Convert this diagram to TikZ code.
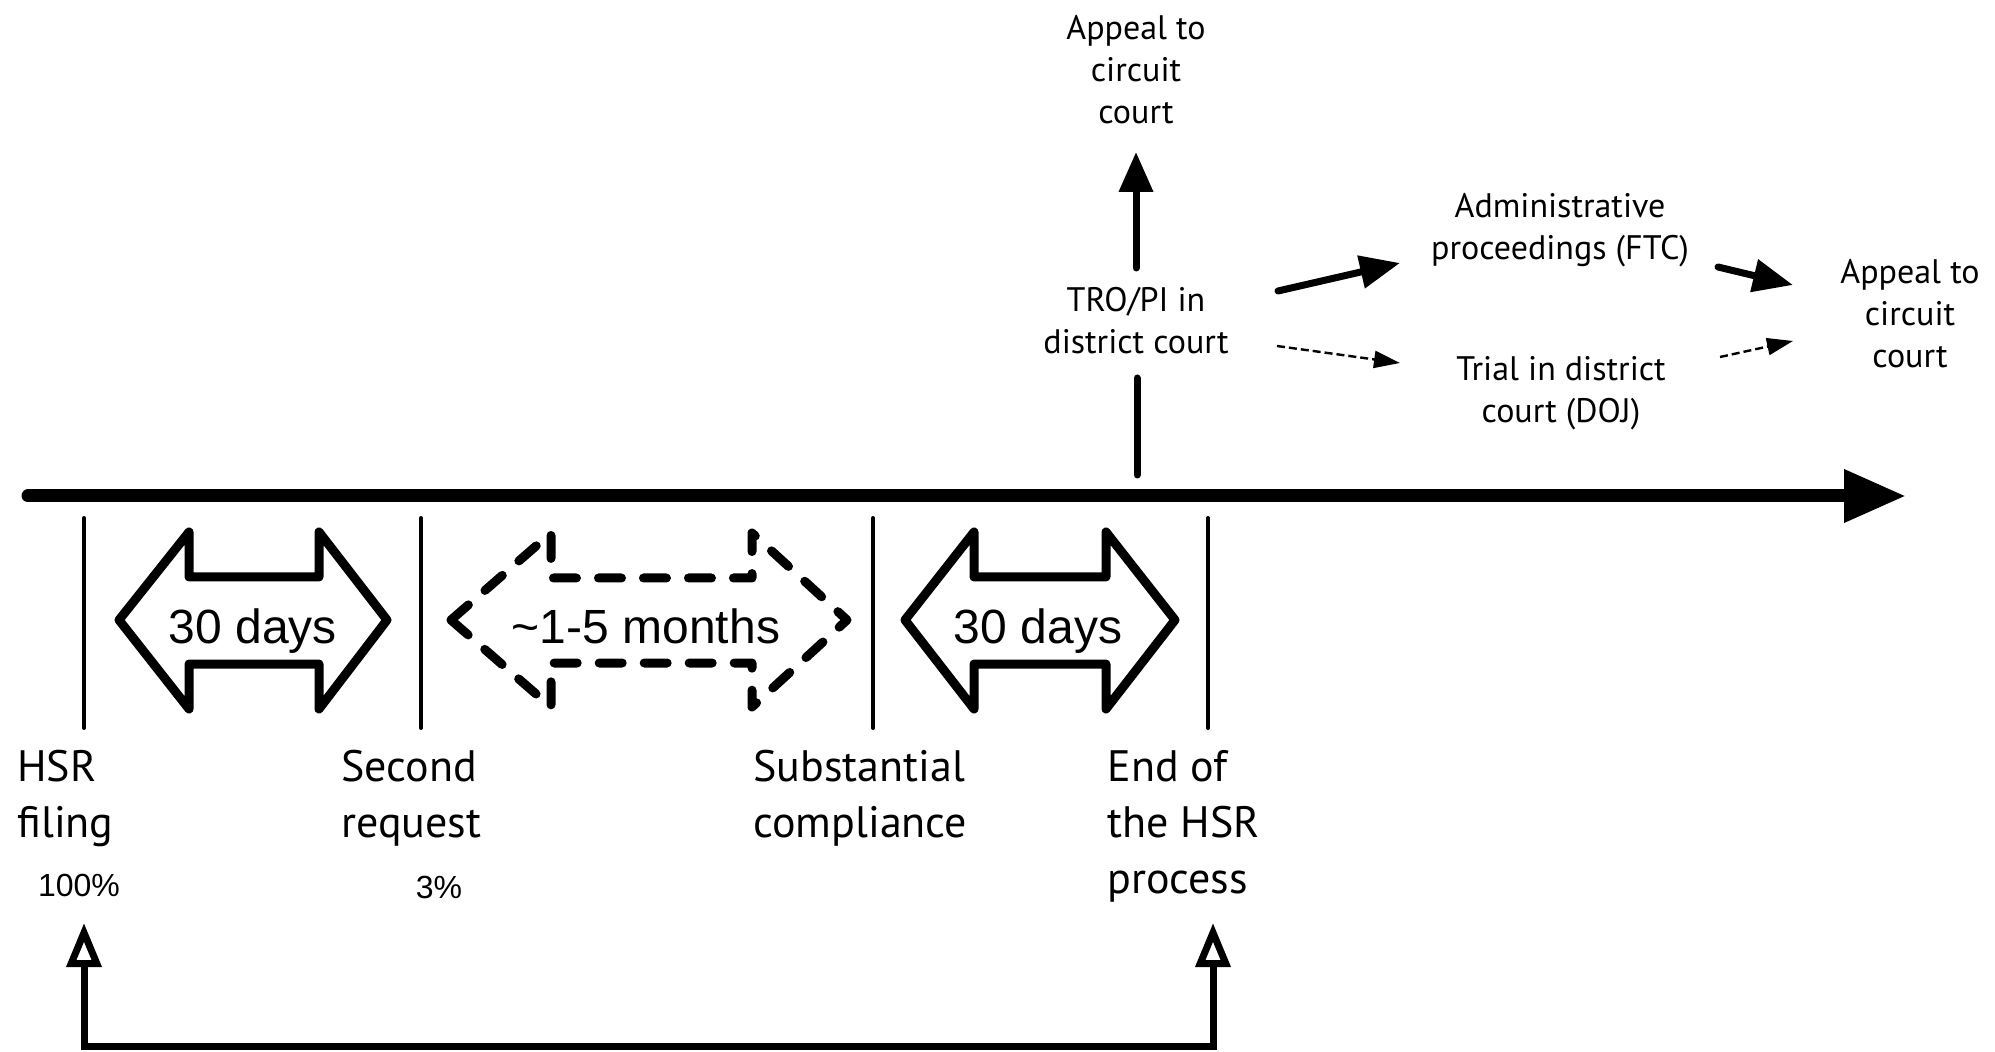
\documentclass[tikz,border=0pt]{standalone}
\usepackage{fontspec}
\setmainfont{PT Sans}
\newfontfamily\helv{Liberation Sans}
\usetikzlibrary{arrows.meta}
\begin{document}
\begin{tikzpicture}[x=0.5pt,y=-0.5pt,
  lbl/.style={font=\fontsize{17}{21}\selectfont, align=center, inner sep=0pt},
  biglbl/.style={font=\fontsize{22}{28}\selectfont, align=left, inner sep=0pt, anchor=north west},
  pct/.style={font=\helv\fontsize{16}{19}\selectfont, inner sep=0pt},
  dur/.style={font=\helv\fontsize{24}{28}\selectfont, inner sep=0pt, anchor=base},
  tickline/.style={line width=2pt, line cap=round},
  dblarrow/.style={line width=4.5pt, line join=round, line cap=round},
  thickarr/.style={line width=3.5pt, line cap=round, -{Triangle[length=20pt,width=16pt]}},
  thinarr/.style={line width=1.2pt, dash pattern=on 4pt off 2pt, -{Triangle[length=13pt,width=8.5pt]}},
]
\useasboundingbox (0,0) rectangle (1995,1052);

% main time axis
\coordinate (axL) at (28,496);
\coordinate (axR) at (1906,496);
\draw[line width=6.5pt, line cap=round, -{Triangle[length=31pt,width=25pt]}] (axL) -- (axR);

% tick lines
\coordinate (t1a) at (84,518);   \coordinate (t1b) at (84,728);
\coordinate (t2a) at (421,518);  \coordinate (t2b) at (421,728);
\coordinate (t3a) at (873,518);  \coordinate (t3b) at (873,728);
\coordinate (t4a) at (1208,518); \coordinate (t4b) at (1208,728);
\draw[tickline] (t1a) -- (t1b);
\draw[tickline] (t2a) -- (t2b);
\draw[tickline] (t3a) -- (t3b);
\draw[tickline] (t4a) -- (t4b);

% double arrows
\draw[dblarrow] (119,620) -- (189,532) -- (189,577) -- (319,577) -- (319,532) -- (387,620)
  -- (319,709) -- (319,664) -- (189,664) -- (189,709) -- cycle;
\draw[dblarrow, dash pattern=on 11.5pt off 11pt] (451,620) -- (551,533) -- (551,578) -- (752,578) -- (752,533) -- (847,620)
  -- (752,707) -- (752,663) -- (551,663) -- (551,707) -- cycle;
\draw[dblarrow] (905,620) -- (974,532) -- (974,577) -- (1106,577) -- (1106,532) -- (1175,620)
  -- (1106,709) -- (1106,664) -- (974,664) -- (974,709) -- cycle;

\node[dur] (d1) at (253,643) {30 days};
\node[dur] (d2) at (646,643) {{\char"7E}1-5 months};
\node[dur] (d3) at (1038,643) {30 days};

% lower labels
\node[biglbl] (hsr) at (17,750) {HSR\\filing};
\node[biglbl] (sec) at (341,750) {Second\\request};
\node[biglbl] (sub) at (753,750) {Substantial\\compliance};
\node[biglbl] (endp) at (1107,750) {End of\\the HSR\\process};
\node[pct] (p100) at (79,885) {100\%};
\node[pct] (p3) at (439,887) {3\%};

% bracket
\coordinate (b1) at (84,923);
\coordinate (b2) at (1213,923);
\draw[line width=3.5pt, line join=miter,
  {Triangle[open,length=22pt,width=17pt]}-{Triangle[open,length=22pt,width=17pt]}]
  (b1) -- ++(0,123) -| (b2);

% upper part
\node[lbl] (aptop) at (1136,70) {Appeal to\\circuit\\court};
\node[lbl] (tro) at (1136,321) {TRO/PI in\\district court};
\node[lbl] (adm) at (1560,230) {Administrative\\proceedings (FTC)};
\node[lbl] (trial) at (1561,393) {Trial in district\\court (DOJ)};
\node[lbl] (apright) at (1910,314) {Appeal to\\circuit\\court};

\coordinate (troUp) at (1136,268);
\coordinate (apTip) at (1136,152);
\draw[line width=3.5pt, line cap=round, -{Triangle[length=20pt,width=16.5pt]}] (troUp) -- (apTip);
\coordinate (troDnA) at (1137,378);
\coordinate (troDnB) at (1137,475);
\draw[line width=3.5pt, line cap=round] (troDnA) -- (troDnB);

\coordinate (a1s) at (1278,291); \coordinate (a1e) at (1400,263);
\coordinate (a2s) at (1718,267); \coordinate (a2e) at (1793,285);
\coordinate (a3s) at (1277,346); \coordinate (a3e) at (1400,363);
\coordinate (a4s) at (1720,357); \coordinate (a4e) at (1793,341);
\draw[thickarr] (a1s) -- (a1e);
\draw[thickarr] (a2s) -- (a2e);
\draw[thinarr] (a3s) -- (a3e);
\draw[thinarr] (a4s) -- (a4e);
\end{tikzpicture}
\end{document}
